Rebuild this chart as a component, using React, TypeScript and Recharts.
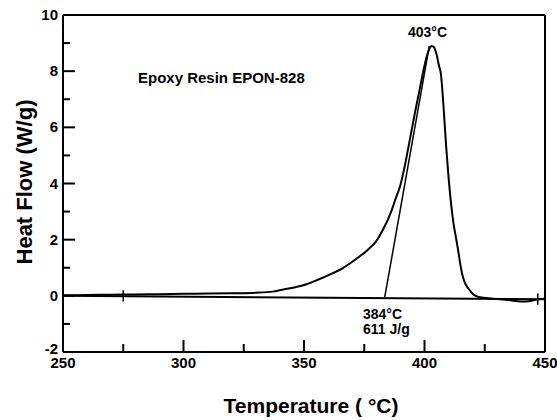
import React from "react";
import { LineChart, Line, XAxis, YAxis, ReferenceLine } from "recharts";

// Heat flow curve (temperature °C, heat flow W/g)
const temperature = [
  250, 260, 270, 280, 290, 300, 310, 320, 330, 337, 341, 346, 351, 356, 362, 366, 369, 373, 377, 380,
  383, 385, 386.5, 388, 390, 392, 394, 396, 398, 399.5, 401, 402, 403, 404, 405, 406, 406.8, 408,
  409, 410, 411, 412, 413, 414, 415, 416, 417, 418.2, 420.3, 423, 428, 435, 440, 444, 447, 450,
];
const heatFlow = [
  0.02, 0.03, 0.04, 0.05, 0.06, 0.07, 0.08, 0.09, 0.11, 0.15, 0.22, 0.3, 0.41, 0.58, 0.81, 0.98, 1.15, 1.4, 1.68, 1.95,
  2.4, 2.75, 3.08, 3.45, 3.95, 4.7, 5.6, 6.5, 7.35, 8.0, 8.55, 8.8, 8.9, 8.85, 8.6, 8.2, 7.9, 6.6,
  5.3, 4.2, 3.3, 2.6, 2.1, 1.6, 1.05, 0.65, 0.42, 0.26, 0.05, -0.05, -0.1, -0.15, -0.2, -0.18, -0.12, -0.1,
];

// Onset tangent line
const tangentT = [383.5, 402];
const tangentHF = [-0.05, 8.9];

// Integration baseline
const baselineT = [250, 450];
const baselineHF = [0.0, -0.12];

// Integration limit markers
const markerT = [275, 447];
const markerHF = [0.0, -0.12];

const xTicks = [250, 275, 300, 325, 350, 375, 400, 425, 450];
const yTicks = [-2, -1, 0, 1, 2, 3, 4, 5, 6, 7, 8, 9, 10];

const curveData = temperature.map((x, i) => ({ x, y: heatFlow[i] }));
const tangentData = tangentT.map((x, i) => ({ x, y: tangentHF[i] }));
const baselineData = baselineT.map((x, i) => ({ x, y: baselineHF[i] }));

const FONT = "'Liberation Sans', Arial, Helvetica, sans-serif";

const XTick = (props: any) => {
  const { x, y, payload } = props;
  const major = payload.value % 50 === 0;
  return (
    <g>
      <line x1={x} y1={y} x2={x} y2={y - (major ? 12 : 8)} stroke="#000" strokeWidth={2} />
      {major && (
        <text x={x} y={y + 16} textAnchor="middle" fontFamily={FONT} fontWeight="bold" fontSize={15} fill="#000">
          {payload.value}
        </text>
      )}
    </g>
  );
};

const YTick = (props: any) => {
  const { x, y, payload } = props;
  const major = payload.value % 2 === 0;
  const dy = payload.value === -2 ? 2 : 5;
  return (
    <g>
      <line x1={x} y1={y} x2={x + (major ? 12 : 7)} y2={y} stroke="#000" strokeWidth={2} />
      {major && (
        <text x={x - 5} y={y + dy} textAnchor="end" fontFamily={FONT} fontWeight="bold" fontSize={15} fill="#000">
          {payload.value}
        </text>
      )}
    </g>
  );
};

export default function App() {
  return (
    <div style={{ position: "absolute", left: 0, top: 0, width: 557, height: 420, background: "#fff" }}>
      <LineChart width={557} height={420} margin={{ top: 15, right: 12, bottom: 38, left: 0 }}>
        <XAxis
          type="number"
          dataKey="x"
          domain={[250, 450]}
          ticks={xTicks}
          interval={0}
          tickSize={0}
          tickMargin={0}
          tick={<XTick />}
          height={30}
          allowDataOverflow
          axisLine={{ stroke: "#000", strokeWidth: 2 }}
        />
        <YAxis
          type="number"
          dataKey="y"
          domain={[-2, 10]}
          ticks={yTicks}
          interval={0}
          tickSize={0}
          tickMargin={0}
          tick={<YTick />}
          width={63}
          allowDataOverflow
          axisLine={{ stroke: "#000", strokeWidth: 2 }}
        />
        <ReferenceLine y={10} stroke="#000" strokeWidth={2} />
        <ReferenceLine x={450} stroke="#000" strokeWidth={2} />
        {markerT.map((t, i) => (
          <ReferenceLine
            key={"m" + i}
            segment={[
              { x: t, y: markerHF[i] - 0.2 },
              { x: t, y: markerHF[i] + 0.2 },
            ]}
            stroke="#000"
            strokeWidth={1.5}
          />
        ))}
        <Line data={baselineData} dataKey="y" type="linear" stroke="#000" strokeWidth={2} dot={false} isAnimationActive={false} />
        <Line data={tangentData} dataKey="y" type="linear" stroke="#000" strokeWidth={1.5} dot={false} isAnimationActive={false} />
        <Line data={curveData} dataKey="y" type="monotone" stroke="#000" strokeWidth={2} dot={false} isAnimationActive={false} />
      </LineChart>
      <svg width={557} height={420} style={{ position: "absolute", left: 0, top: 0, pointerEvents: "none" }}>
        <text x={138} y={83} fontFamily={FONT} fontWeight="bold" fontSize={15} fill="#000">
          Epoxy Resin EPON-828
        </text>
        <text x={408} y={37} fontFamily={FONT} fontWeight="bold" fontSize={14} fill="#000">
          403°C
        </text>
        <text x={363} y={319} fontFamily={FONT} fontWeight="bold" fontSize={14} fill="#000">
          384°C
        </text>
        <text x={363} y={334} fontFamily={FONT} fontWeight="bold" fontSize={14} fill="#000">
          611 J/g
        </text>
        <text x={311} y={413} textAnchor="middle" fontFamily={FONT} fontWeight="bold" fontSize={21} fill="#000">
          Temperature ( °C)
        </text>
        <text
          x={32}
          y={182}
          transform="rotate(-90, 32, 182)"
          textAnchor="middle"
          fontFamily={FONT}
          fontWeight="bold"
          fontSize={22}
          fill="#000"
        >
          Heat Flow (W/g)
        </text>
      </svg>
    </div>
  );
}
